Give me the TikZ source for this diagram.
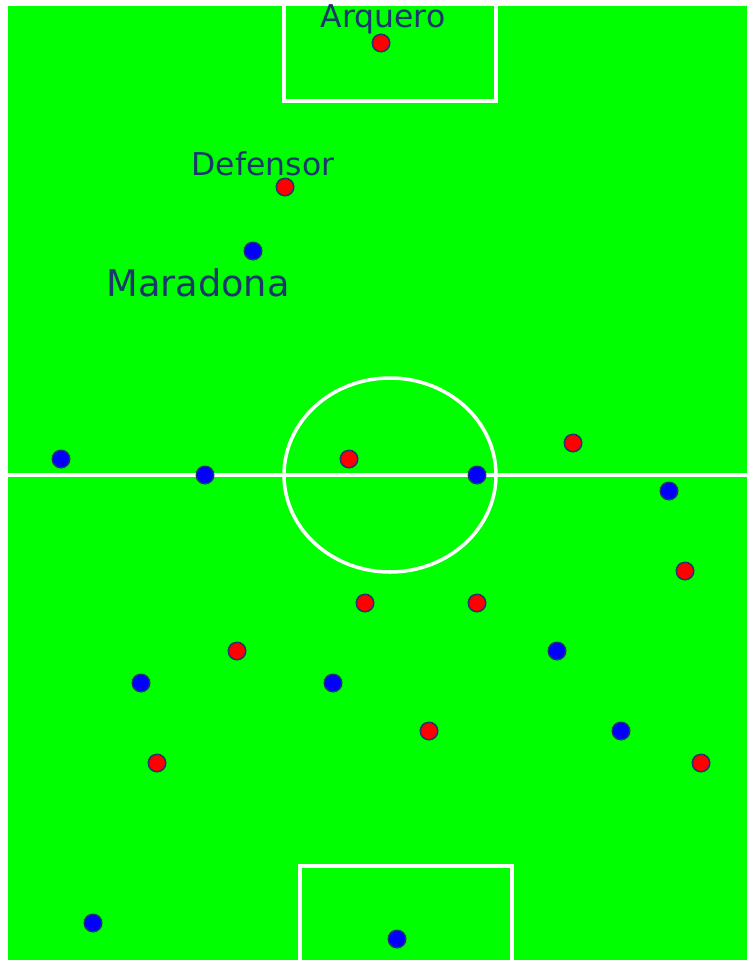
\documentclass[tikz,border=0pt]{standalone}
\usepackage{fontspec}
\setmainfont{DejaVu Sans}
\usepackage{tikz}
\usetikzlibrary{positioning}

\definecolor{campo}{RGB}{0,255,0}
\definecolor{tinta}{RGB}{28,55,110}

\tikzset{
    linea/.style={draw=white, line width=2pt},
    rojo/.style={circle, draw=tinta, line width=0.8pt, fill=red, minimum size=10pt, inner sep=0pt},
    azul/.style={circle, draw=tinta, line width=0.8pt, fill=blue, minimum size=10pt, inner sep=0pt},
    etiqueta/.style={text=tinta, font=\fontsize{17.9}{20}\selectfont, inner sep=0pt},
}

\begin{document}
\begin{tikzpicture}[x=0.02cm, y=-0.02cm]

    % Fondo y cancha
    \fill[white] (0,0) rectangle (747,960);
    \useasboundingbox (0,0) rectangle (747,960);
    \fill[campo] (8,6) rectangle (747,960);

    % Lineas de la cancha
    \draw[linea] (8,475) -- (747,475);
    \draw[linea] (390,475) ellipse (106 and 97);
    \draw[linea] (284,6) -- (284,101) -- (496,101) -- (496,6);
    \draw[linea] (300,960) -- (300,866) -- (512,866) -- (512,960);

    % Equipo rojo
    \node[rojo] (arquero) at (381,43) {};
    \node[rojo] (defensor) at (285,187) {};
    \node[rojo] (r3) at (349,459) {};
    \node[rojo] (r4) at (573,443) {};
    \node[rojo] (r5) at (685,571) {};
    \node[rojo] (r6) at (365,603) {};
    \node[rojo] (r7) at (477,603) {};
    \node[rojo] (r8) at (237,651) {};
    \node[rojo] (r9) at (429,731) {};
    \node[rojo] (r10) at (157,763) {};
    \node[rojo] (r11) at (701,763) {};

    % Equipo azul
    \node[azul] (maradona) at (253,251) {};
    \node[azul] (a2) at (61,459) {};
    \node[azul] (a3) at (205,475) {};
    \node[azul] (a4) at (477,475) {};
    \node[azul] (a5) at (669,491) {};
    \node[azul] (a6) at (557,651) {};
    \node[azul] (a7) at (141,683) {};
    \node[azul] (a8) at (333,683) {};
    \node[azul] (a9) at (621,731) {};
    \node[azul] (a10) at (93,923) {};
    \node[azul] (a11) at (397,939) {};

    % Nombres
    \node[etiqueta] (txtarquero) at (383,19) {Arquero};
    \node[etiqueta] (txtdefensor) at (263,164) {Defensor};
    \node[etiqueta, font=\fontsize{20.9}{24}\selectfont] (txtmaradona) at (198,283) {Maradona};

\end{tikzpicture}
\end{document}
